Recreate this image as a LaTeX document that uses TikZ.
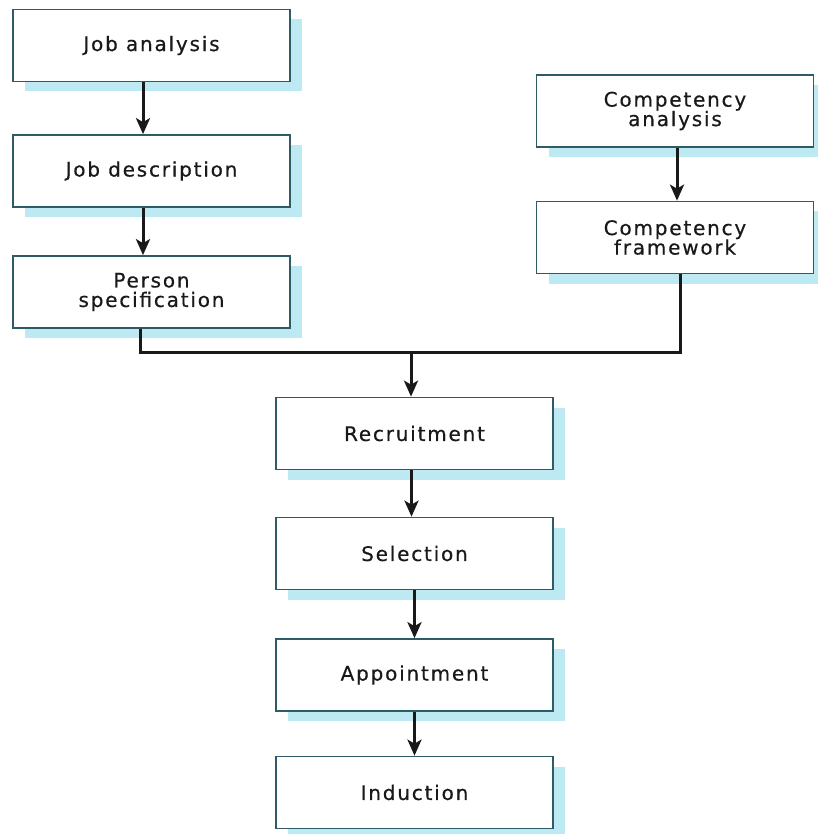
\documentclass[tikz,border=0pt]{standalone}
\usepackage{fontspec}
\newfontfamily\boxfont[LetterSpace=9,FakeBold=0.5]{DejaVu Sans}
\usetikzlibrary{arrows.meta,shadows}
\definecolor{boxedge}{HTML}{2E5B66}
\definecolor{shadowcyan}{HTML}{BDEAF2}
\tikzset{
  stage/.style={draw=boxedge, line width=1.7pt, fill=white, minimum width=277pt, minimum height=72pt,
    align=center, font=\boxfont\fontsize{20}{19.5}\selectfont, text=black!90, inner sep=0pt,
    drop shadow={shadow xshift=12pt, shadow yshift=-10pt, fill=shadowcyan, opacity=1}},
  flow/.style={line width=3pt, black!90, -{Stealth[length=16pt,width=14pt,inset=4pt]}},
  joinline/.style={line width=3pt, black!90}
}
\begin{document}
\begin{tikzpicture}[x=1pt,y=-1pt]
\useasboundingbox (0,0) rectangle (817,834);
\node[stage] (ja) at (151.5,45.5) {Job analysis};
\node[stage] (jd) at (151.5,171) {Job description};
\node[stage] (ps) at (151.5,292) {Person\\specification};
\node[stage] (ca) at (675,111) {Competency\\analysis};
\node[stage] (cf) at (675,237.5) {Competency\\framework};
\node[stage] (rec) at (414.5,433.5) {Recruitment};
\node[stage] (sel) at (414.5,553.5) {Selection};
\node[stage] (app) at (414.5,675) {Appointment};
\node[stage] (ind) at (414.5,792.5) {Induction};
\coordinate (jl) at (140,352);
\coordinate (jr) at (680,352);
\coordinate (jm) at (411,352);
\draw[flow] ([xshift=-8.5pt]ja.south) -- ([xshift=-8.5pt]jd.north);
\draw[flow] ([xshift=-8.5pt]jd.south) -- ([xshift=-8.5pt]ps.north);
\draw[flow] ([xshift=2pt]ca.south) -- ([xshift=2pt]cf.north);
\draw[joinline] ([xshift=-11.5pt]ps.south) -- (jl) -- (jr) -- ([xshift=5pt]cf.south);
\draw[flow] (jm) -- ([xshift=-3.5pt]rec.north);
\draw[flow] ([xshift=-3pt]rec.south) -- ([xshift=-3pt]sel.north);
\draw[flow] ([xshift=0pt]sel.south) -- ([xshift=0pt]app.north);
\draw[flow] ([xshift=0pt]app.south) -- ([xshift=0pt]ind.north);
\end{tikzpicture}
\end{document}
